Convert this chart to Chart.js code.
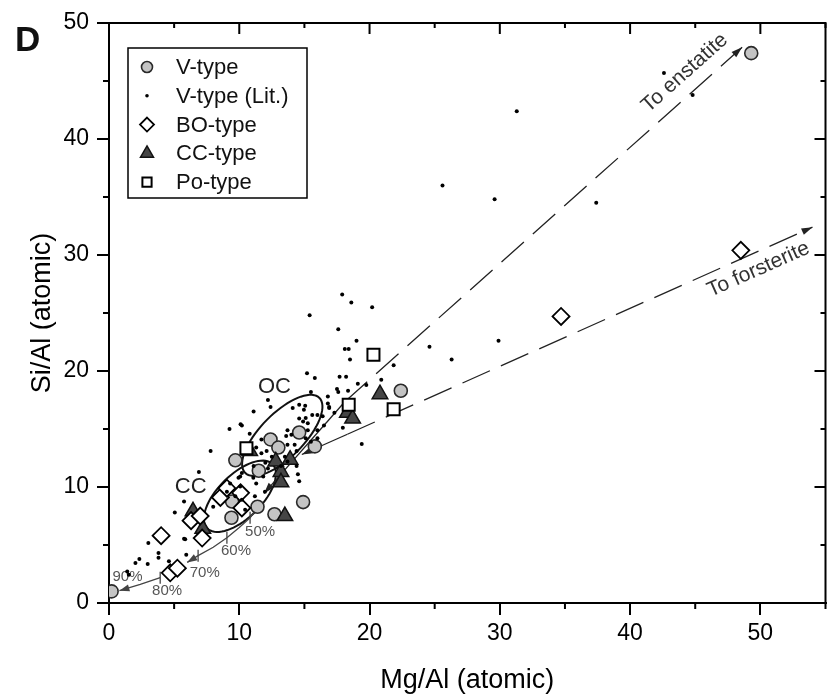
<!DOCTYPE html>
<html>
<head>
<meta charset="utf-8">
<script src="https://cdn.jsdelivr.net/npm/chart.js@4.4.1/dist/chart.umd.min.js"></script>
<style>
  html, body { margin: 0; padding: 0; overflow: hidden; background: #fff; }
</style>
</head>
<body>
<canvas id="plot" width="836" height="700"></canvas>
<script>
// values (Mg/Al, Si/Al)
const vType = [
  [0.2, 1.0], [9.7, 12.3], [11.5, 11.4], [12.4, 14.1], [13.0, 13.4], [14.6, 14.7],
  [15.8, 13.5], [9.45, 8.75], [9.4, 7.35], [11.4, 8.3], [12.7, 7.65], [14.9, 8.7],
  [22.4, 18.3], [49.3, 47.4]
];
const vTypeLit = [
  [42.6, 45.7], [44.8, 43.8], [31.3, 42.4], [25.6, 36.0], [29.6, 34.8], [37.4, 34.5],
  [17.9, 26.6], [18.6, 25.9], [20.2, 25.5], [15.4, 24.8], [17.6, 23.6], [19.0, 22.6],
  [18.1, 21.9], [18.4, 21.9], [18.5, 21.0], [24.6, 22.1], [29.9, 22.6], [26.3, 21.0],
  [21.85, 20.5], [15.2, 19.8], [15.8, 19.4], [17.7, 19.5], [18.2, 19.5], [19.1, 18.9],
  [19.75, 18.8], [20.9, 19.25], [17.5, 18.45], [17.6, 18.2], [18.35, 18.3], [15.5, 18.2],
  [16.8, 17.8], [16.8, 17.2], [16.9, 16.9], [17.3, 16.4], [16.5, 15.3], [17.95, 15.1],
  [19.4, 13.7], [12.2, 17.5], [11.1, 16.5], [10.2, 15.3], [9.25, 15.0], [12.4, 16.9],
  [10.8, 14.6], [7.8, 13.1], [6.9, 11.3], [14.6, 17.1], [15.06, 17.0], [14.1, 16.8],
  [14.96, 16.67], [15.6, 16.2], [14.6, 15.9], [15.1, 15.95], [14.9, 15.65], [15.26, 15.5],
  [16.0, 16.2], [16.4, 16.1], [16.9, 16.8], [15.26, 14.9], [16.0, 14.9], [13.7, 14.9],
  [14.0, 14.5], [13.6, 14.4], [13.7, 13.65], [14.25, 13.65], [14.4, 13.1], [15.1, 14.2],
  [15.5, 13.9], [16.0, 14.2], [11.7, 14.1], [11.3, 13.4], [11.7, 12.9], [12.1, 13.1],
  [12.5, 12.6], [13.5, 12.6], [13.7, 12.2], [13.2, 11.8], [14.4, 11.8], [12.0, 12.1],
  [12.2, 11.6], [11.1, 11.8], [10.07, 10.9], [14.5, 11.1], [14.6, 10.5], [10.1, 15.4],
  [5.76, 8.76], [5.05, 7.8], [5.76, 5.54], [8.0, 8.3], [9.94, 10.8], [10.2, 11.2],
  [11.08, 10.8], [11.3, 10.3], [10.07, 10.05], [9.3, 10.3], [9.05, 9.6], [9.7, 9.2],
  [10.2, 8.9], [11.2, 9.2], [10.45, 8.04], [11.97, 9.6], [11.84, 10.9], [3.02, 5.17],
  [2.33, 3.79], [2.03, 3.45], [2.97, 3.36], [3.8, 4.3], [3.8, 3.9], [4.6, 3.6],
  [1.4, 2.72], [1.52, 2.44], [5.85, 5.5], [5.93, 4.16]
];
const boType = [
  [48.5, 30.4], [34.7, 24.7], [4.0, 5.8], [4.7, 2.6], [5.25, 3.0], [7.15, 5.6],
  [6.3, 7.1], [7.0, 7.5], [8.55, 9.1], [9.05, 9.9], [10.1, 9.5], [10.2, 8.2]
];
const ccType = [
  [20.8, 18.0], [18.3, 16.4], [18.7, 15.9], [13.2, 11.3], [13.2, 10.4], [13.5, 7.5],
  [6.45, 7.9], [7.2, 6.4], [13.9, 12.35], [10.8, 13.1], [12.8, 12.2]
];
const poType = [[20.3, 21.4], [18.4, 17.1], [21.85, 16.7], [10.55, 13.35]];

const xTicks = [0, 10, 20, 30, 40, 50];
const yTicks = [0, 10, 20, 30, 40, 50];

// evaporation trend (50 % .. 90 %)
const evapA = [[11.4, 8.2], [10.83, 7.35], [10.0, 6.5], [9.05, 5.63], [8.0, 4.8], [6.84, 4.08], [6.0, 3.5]];
const evapB = [[3.93, 2.18], [2.4, 1.6], [0.8, 1.06]];
const evapTicks = [[10.83, 7.35], [9.05, 5.63], [6.84, 4.08], [3.93, 2.18]];
const evapLabels = [['50%', 11.6, 6.1], ['60%', 9.75, 4.47], ['70%', 7.35, 2.57], ['80%', 4.46, 1.06], ['90%', 1.42, 2.27]];

const FONT = "'Liberation Sans', Arial, sans-serif";
Chart.defaults.font.family = FONT;

const pts = a => a.map(([x, y]) => ({ x, y }));

function mark(ctx, style, x, y, r, fill, stroke, lw) {
  ctx.beginPath();
  if (style === 'circle') ctx.arc(x, y, r, 0, Math.PI * 2);
  else if (style === 'rectRot') { ctx.moveTo(x, y - r); ctx.lineTo(x + r, y); ctx.lineTo(x, y + r); ctx.lineTo(x - r, y); ctx.closePath(); }
  else if (style === 'triangle') { ctx.moveTo(x, y - r); ctx.lineTo(x + r * 0.866, y + r * 0.5); ctx.lineTo(x - r * 0.866, y + r * 0.5); ctx.closePath(); }
  else { const s = r * 0.707; ctx.rect(x - s, y - s, 2 * s, 2 * s); }
  ctx.fillStyle = fill; ctx.fill();
  if (lw) { ctx.lineWidth = lw; ctx.strokeStyle = stroke; ctx.stroke(); }
}

function arrowHead(ctx, a, b, len, half) {
  const ang = Math.atan2(b[1] - a[1], b[0] - a[0]);
  ctx.beginPath();
  ctx.moveTo(b[0], b[1]);
  ctx.lineTo(b[0] - len * Math.cos(ang) + half * Math.sin(ang), b[1] - len * Math.sin(ang) - half * Math.cos(ang));
  ctx.lineTo(b[0] - len * Math.cos(ang) - half * Math.sin(ang), b[1] - len * Math.sin(ang) + half * Math.cos(ang));
  ctx.closePath();
  ctx.fill();
}

const decor = {
  id: 'decor',
  beforeDatasetsDraw(chart) {
    const ctx = chart.ctx, X = chart.scales.x, Y = chart.scales.y;
    const P = (x, y) => [X.getPixelForValue(x), Y.getPixelForValue(y)];
    ctx.save();

    // chondrite fields
    const ellipse = (c, u, v) => {
      ctx.beginPath();
      for (let i = 0; i <= 72; i++) {
        const t = i / 72 * Math.PI * 2;
        const p = P(c[0] + Math.cos(t) * u[0] + Math.sin(t) * v[0], c[1] + Math.cos(t) * u[1] + Math.sin(t) * v[1]);
        i ? ctx.lineTo(p[0], p[1]) : ctx.moveTo(p[0], p[1]);
      }
      ctx.closePath();
      ctx.lineWidth = 2; ctx.strokeStyle = '#111'; ctx.stroke();
    };
    ellipse([13.3, 14.45], [2.85, 3.23], [1.18, -1.34]);
    ellipse([10.05, 9.2], [2.51, 2.76], [1.16, -1.36]);

    ctx.fillStyle = '#222';
    ctx.font = '22px ' + FONT;
    ctx.textAlign = 'center'; ctx.textBaseline = 'middle';
    let p = P(12.7, 18.6); ctx.fillText('OC', p[0], p[1]);
    p = P(6.27, 9.98); ctx.fillText('CC', p[0], p[1]);

    // mineral trends
    ctx.strokeStyle = '#222'; ctx.fillStyle = '#222'; ctx.lineWidth = 1.3;
    const seg = (a, b, dash, head) => {
      const pa = P(a[0], a[1]), pb = P(b[0], b[1]);
      ctx.setLineDash(dash);
      ctx.beginPath(); ctx.moveTo(pa[0], pa[1]); ctx.lineTo(pb[0], pb[1]); ctx.stroke();
      ctx.setLineDash([]);
      if (head) arrowHead(ctx, pa, pb, 11, 3.5);
    };
    seg([18.1, 17.35], [48.6, 47.9], [30, 12], true);
    seg([18.1, 17.35], [11.9, 9.45], [], true);
    seg([18.3, 14.55], [54.0, 32.4], [30, 12], true);
    seg([18.3, 14.55], [14.8, 12.8], [], true);

    ctx.font = '21px ' + FONT; ctx.fillStyle = '#333';
    const rotText = (txt, c, a, b) => {
      const pa = P(a[0], a[1]), pb = P(b[0], b[1]), pc = P(c[0], c[1]);
      ctx.save();
      ctx.translate(pc[0], pc[1]);
      ctx.rotate(Math.atan2(pb[1] - pa[1], pb[0] - pa[0]));
      ctx.fillText(txt, 0, 0);
      ctx.restore();
    };
    rotText('To enstatite', [44.2, 45.7], [18.1, 17.35], [48.6, 47.9]);
    rotText('To forsterite', [49.85, 28.75], [18.3, 14.55], [54.0, 32.4]);

    // evaporation curve
    ctx.strokeStyle = '#444'; ctx.fillStyle = '#444'; ctx.lineWidth = 1.3;
    const curve = arr => {
      const q = arr.map(d => P(d[0], d[1]));
      ctx.beginPath(); ctx.moveTo(q[0][0], q[0][1]);
      for (let i = 1; i < q.length; i++) ctx.lineTo(q[i][0], q[i][1]);
      ctx.stroke();
      arrowHead(ctx, q[q.length - 2], q[q.length - 1], 10, 3.5);
    };
    curve(evapA); curve(evapB);
    evapTicks.forEach(d => {
      const q = P(d[0], d[1]);
      ctx.beginPath(); ctx.moveTo(q[0], q[1] - 6); ctx.lineTo(q[0], q[1] + 6); ctx.stroke();
    });
    ctx.font = '15px ' + FONT; ctx.fillStyle = '#555';
    evapLabels.forEach(([t, x, y]) => { const q = P(x, y); ctx.fillText(t, q[0], q[1]); });
    ctx.restore();
  },
  afterDraw(chart) {
    const ctx = chart.ctx, X = chart.scales.x, Y = chart.scales.y;
    const a = chart.chartArea;
    ctx.save();
    ctx.strokeStyle = '#000'; ctx.lineWidth = 2;
    ctx.beginPath();
    ctx.moveTo(a.left - 1, a.top); ctx.lineTo(a.right, a.top); ctx.lineTo(a.right, a.bottom);
    ctx.stroke();
    ctx.beginPath();
    for (let v = 0; v <= 55; v += 5) {
      const x = X.getPixelForValue(v), big = v % 10 === 0;
      if (!big) { ctx.moveTo(x, a.bottom); ctx.lineTo(x, a.bottom + 6); }
      ctx.moveTo(x, a.top); ctx.lineTo(x, a.top + (big ? 11 : 5));
    }
    for (let v = 0; v <= 50; v += 5) {
      const y = Y.getPixelForValue(v), big = v % 10 === 0;
      if (!big) { ctx.moveTo(a.left, y); ctx.lineTo(a.left - 6, y); }
      ctx.moveTo(a.right, y); ctx.lineTo(a.right - (big ? 11 : 5), y);
    }
    ctx.stroke();

    // legend
    ctx.lineWidth = 1.5;
    ctx.strokeRect(128, 48, 179, 150);
    const sizes = [5.5, 1.8, 7, 7.5, 6.5];
    ctx.font = '22px ' + FONT; ctx.textAlign = 'left'; ctx.textBaseline = 'middle';
    chart.data.datasets.forEach((ds, i) => {
      const y = 67 + i * 28.8;
      mark(ctx, ds.pointStyle, 147, y, sizes[i], ds.backgroundColor, ds.borderColor, ds.borderWidth);
      ctx.fillStyle = '#111';
      ctx.fillText(ds.label, 176, y + 1);
    });

    ctx.font = 'bold 35px ' + FONT; ctx.fillStyle = '#111';
    ctx.textBaseline = 'alphabetic';
    ctx.fillText('D', 15, 51);
    ctx.restore();
  }
};

const axisFont = { family: FONT, size: 23 };

new Chart(document.getElementById('plot'), {
  type: 'scatter',
  data: {
    datasets: [
      { label: 'V-type', data: pts(vType), pointStyle: 'circle', pointRadius: 6.5, backgroundColor: '#c4c4c4', borderColor: '#2a2a2a', borderWidth: 1.6, order: 5 },
      { label: 'V-type (Lit.)', data: pts(vTypeLit), pointStyle: 'circle', pointRadius: 2, backgroundColor: '#000', borderColor: '#000', borderWidth: 0, order: 1 },
      { label: 'BO-type', data: pts(boType), pointStyle: 'rectRot', pointRadius: 8.5, backgroundColor: '#fff', borderColor: '#000', borderWidth: 1.8, order: 3 },
      { label: 'CC-type', data: pts(ccType), pointStyle: 'triangle', pointRadius: 9, backgroundColor: '#454545', borderColor: '#111', borderWidth: 1.5, order: 4 },
      { label: 'Po-type', data: pts(poType), pointStyle: 'rect', pointRadius: 8.5, backgroundColor: '#fff', borderColor: '#000', borderWidth: 2, order: 2 }
    ]
  },
  options: {
    responsive: false,
    animation: false,
    events: [],
    layout: { padding: { top: 23, right: 3.5, left: 0, bottom: 0 } },
    plugins: { legend: { display: false }, tooltip: { enabled: false } },
    scales: {
      x: {
        type: 'linear', min: 0, max: 55,
        afterBuildTicks: s => { s.ticks = xTicks.map(v => ({ value: v })); },
        afterFit: s => { s.height = 97; },
        ticks: { font: axisFont, color: '#000', padding: 5, maxRotation: 0, autoSkip: false },
        grid: { drawOnChartArea: false, tickLength: 12, lineWidth: 2, tickWidth: 2, color: '#000' },
        border: { display: true, color: '#000', width: 2 },
        title: { display: true, text: 'Mg/Al (atomic)', color: '#000', font: { family: FONT, size: 27 }, padding: { top: 0, bottom: 3 } }
      },
      y: {
        type: 'linear', min: 0, max: 50,
        afterBuildTicks: s => { s.ticks = yTicks.map(v => ({ value: v })); },
        afterFit: s => { s.width = 109; },
        ticks: { font: axisFont, color: '#000', padding: 8 },
        grid: { drawOnChartArea: false, tickLength: 12, lineWidth: 2, tickWidth: 2, color: '#000' },
        border: { display: true, color: '#000', width: 2 },
        title: { display: true, text: 'Si/Al (atomic)', color: '#000', font: { family: FONT, size: 27 }, padding: { top: 26, bottom: 0 } }
      }
    }
  },
  plugins: [decor]
});
</script>
</body>
</html>
